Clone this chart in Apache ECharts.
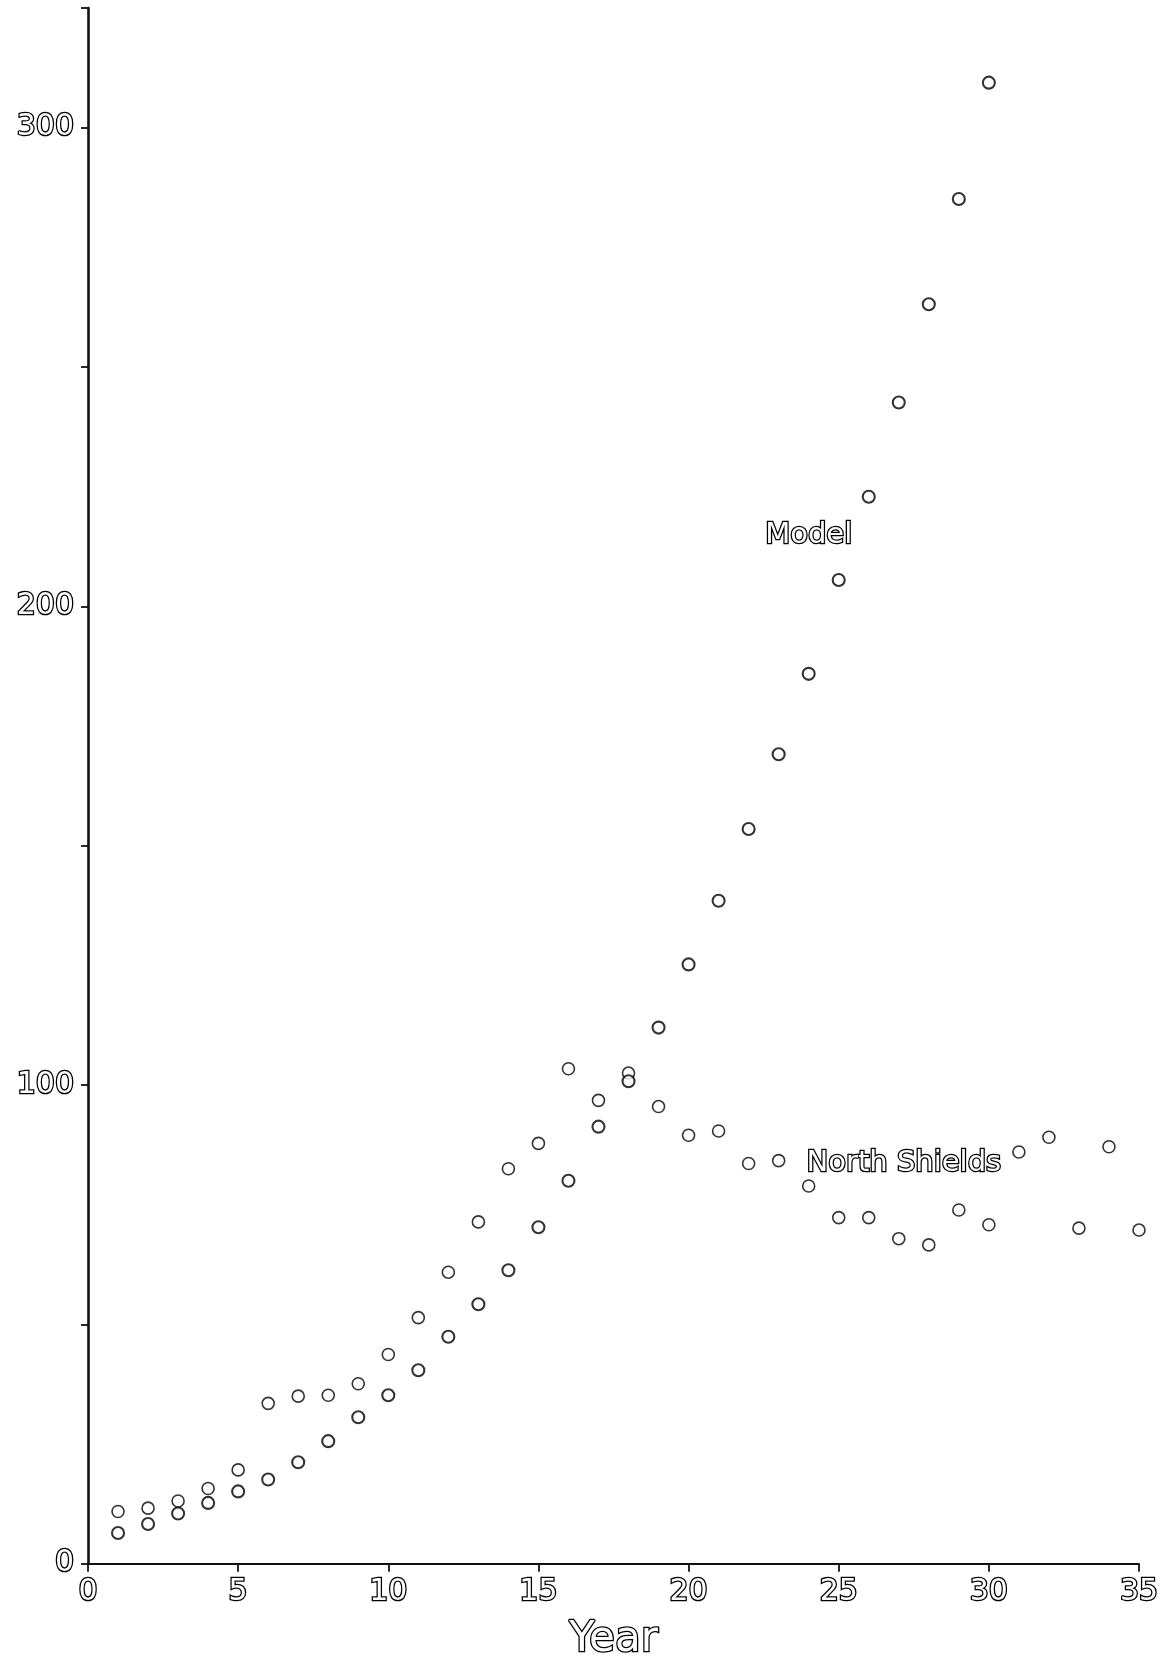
<!DOCTYPE html>
<html>
<head>
<meta charset="utf-8">
<script src="https://cdn.jsdelivr.net/npm/echarts@6/dist/echarts.min.js"></script>
<style>
  html, body { margin: 0; padding: 0; background: #ffffff; }
  #chart { width: 1170px; height: 1667px; }
</style>
</head>
<body>
<div id="chart"></div>
<script>
// Years 1..35
const years = [1,2,3,4,5,6,7,8,9,10,11,12,13,14,15,16,17,18,19,20,21,22,23,24,25,26,27,28,29,30,31,32,33,34,35];

// Model values (years 1..30)
const modelValues = [6.4, 8.3, 10.5, 12.7, 15.1, 17.6, 21.2, 25.6, 30.6, 35.2,
                     40.4, 47.4, 54.2, 61.3, 70.3, 80.0, 91.3, 100.8, 112.0, 125.2,
                     138.5, 153.5, 169.1, 185.9, 205.5, 222.9, 242.6, 263.1, 285.1, 309.4];

// North Shields observed values (years 1..35)
const northShieldsValues = [10.9, 11.6, 13.1, 15.7, 19.6, 33.5, 35.0, 35.2, 37.6, 43.7,
                            51.4, 60.9, 71.4, 82.5, 87.8, 103.4, 96.8, 102.5, 95.5, 89.5,
                            90.4, 83.6, 84.2, 78.9, 72.3, 72.3, 67.9, 66.6, 73.9, 70.8,
                            86.0, 89.1, 70.1, 87.1, 69.7];

const xTicks = [0, 5, 10, 15, 20, 25, 30, 35];
const yTickLabels = [0, 100, 200, 300];

const FONT = 'DejaVu Sans';
const outlineText = { color: '#ffffff', textBorderColor: '#000000', textBorderWidth: 2.6, fontFamily: FONT };

const chart = echarts.init(document.getElementById('chart'), null, { renderer: 'canvas' });

const modelData = modelValues.map((v, i) => [years[i], v]);
const nsData = northShieldsValues.map((v, i) => [years[i], v]);

chart.setOption({
  backgroundColor: '#ffffff',
  animation: false,
  grid: { left: 88, right: 31, top: 8, bottom: 93, containLabel: false },
  xAxis: {
    type: 'value',
    min: xTicks[0],
    max: xTicks[xTicks.length - 1],
    interval: 5,
    name: 'Year',
    nameLocation: 'middle',
    nameGap: 55,
    nameTextStyle: Object.assign({ fontSize: 42 }, outlineText),
    axisLine: { show: true, onZero: false, lineStyle: { color: '#111111', width: 1.8 } },
    axisTick: { show: true, inside: false, length: 8, lineStyle: { color: '#111111', width: 1.8 } },
    axisLabel: Object.assign({ fontSize: 30, margin: 14 }, outlineText),
    splitLine: { show: false }
  },
  yAxis: {
    type: 'value',
    min: 0,
    max: 325,
    interval: 50,
    axisLine: { show: true, onZero: false, lineStyle: { color: '#111111', width: 2.6 } },
    axisTick: { show: true, inside: false, length: 7, lineStyle: { color: '#111111', width: 1.8 } },
    axisLabel: Object.assign({
      fontSize: 30,
      margin: 14,
      formatter: function (v) { return yTickLabels.indexOf(v) >= 0 ? String(v) : ''; }
    }, outlineText),
    splitLine: { show: false }
  },
  series: [
    {
      name: 'Model',
      type: 'scatter',
      data: modelData,
      symbol: 'circle',
      symbolSize: 12,
      itemStyle: { color: '#ffffff', borderColor: '#000000', borderWidth: 2.1 },
      markPoint: {
        symbol: 'circle',
        symbolSize: 0,
        data: [{ coord: [24.0, 214.8] }],
        label: Object.assign({ show: true, position: 'inside', fontSize: 29, formatter: 'Model' }, outlineText)
      },
      z: 3
    },
    {
      name: 'North Shields',
      type: 'scatter',
      data: nsData,
      symbol: 'circle',
      symbolSize: 12,
      itemStyle: { color: '#ffffff', borderColor: '#000000', borderWidth: 1.6 },
      markPoint: {
        symbol: 'circle',
        symbolSize: 0,
        data: [{ coord: [27.17, 83.6] }],
        label: Object.assign({ show: true, position: 'inside', fontSize: 29, formatter: 'North Shields' }, outlineText)
      },
      z: 2
    }
  ]
});
</script>
</body>
</html>
